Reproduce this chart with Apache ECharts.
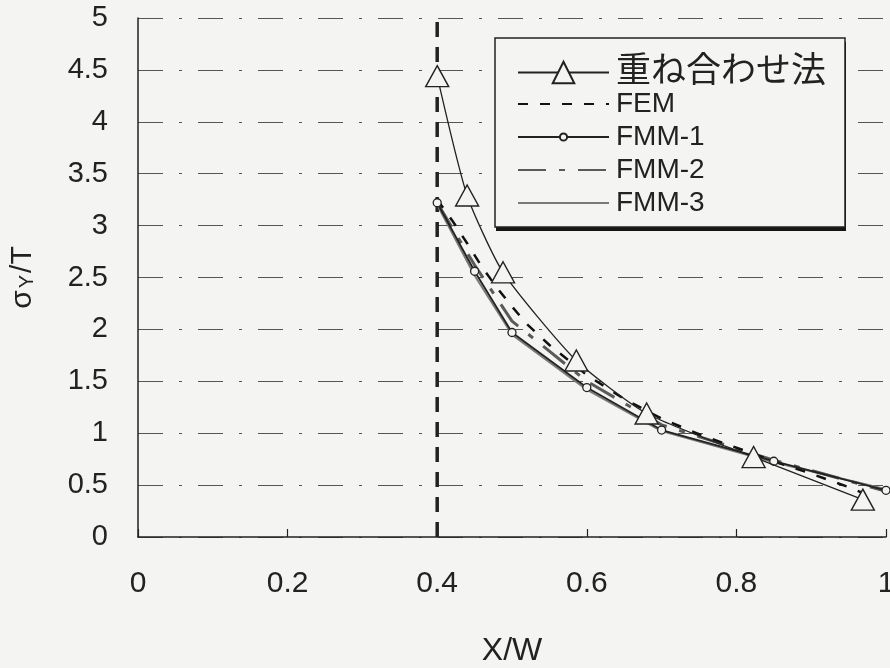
<!DOCTYPE html>
<html><head><meta charset="utf-8">
<script src="https://cdn.jsdelivr.net/npm/echarts/dist/echarts.min.js"></script>
<style>html,body{margin:0;padding:0;background:#f4f4f2}#c{width:890px;height:668px}</style>
</head><body><div id="c"></div>
<script>
// ---- data ----
const seriesNames = ['重ね合わせ法', 'FEM', 'FMM-1', 'FMM-2', 'FMM-3'];
const superX = [0.4, 0.44, 0.488, 0.586, 0.68, 0.823, 0.969];
const superY = [4.44, 3.29, 2.55, 1.70, 1.19, 0.77, 0.36];
const femX = [0.4, 0.42, 0.44, 0.46, 0.48, 0.5, 0.52, 0.55, 0.6, 0.65, 0.7, 0.75, 0.8, 0.85, 0.9, 0.95, 0.97];
const femY = [3.25, 3.05, 2.83, 2.6, 2.4, 2.22, 2.05, 1.85, 1.56, 1.33, 1.14, 0.99, 0.86, 0.73, 0.61, 0.48, 0.42];
const fmm1X = [0.4, 0.45, 0.5, 0.6, 0.7, 0.85, 1.0];
const fmm1Y = [3.22, 2.56, 1.97, 1.44, 1.03, 0.73, 0.45];
const fmm2X = [0.4, 0.45, 0.5, 0.6, 0.7, 0.85, 1.0];
const fmm2Y = [3.22, 2.62, 2.08, 1.5, 1.08, 0.74, 0.44];
const fmm3X = [0.4, 0.45, 0.5, 0.6, 0.7, 0.85, 1.0];
const fmm3Y = [3.2, 2.52, 1.95, 1.42, 1.02, 0.72, 0.46];
const crackX = [0.4, 0.4];
const crackY = [0, 5];
const xTicks = [0, 0.2, 0.4, 0.6, 0.8, 1];
const yTicks = [0, 0.5, 1, 1.5, 2, 2.5, 3, 3.5, 4, 4.5, 5];

const zip = (xs, ys) => xs.map((x, i) => [x, ys[i]]);
const BG = '#f4f4f2';
const FONT = '"Liberation Sans", Arial, "Noto Sans CJK JP", sans-serif';
const chart = echarts.init(document.getElementById('c'), null, {renderer: 'canvas'});
chart.setOption({
  backgroundColor: BG,
  animation: false,
  textStyle: {fontFamily: FONT, color: '#222'},
  grid: {left: 138, right: 4, top: 18, bottom: 131, outerBoundsMode: 'none', containLabel: false},
  xAxis: {
    type: 'value', min: xTicks[0], max: xTicks[xTicks.length - 1], interval: 0.2,
    name: 'X/W', nameLocation: 'middle', nameGap: 98,
    nameTextStyle: {fontSize: 32, color: '#222', fontFamily: FONT},
    axisLine: {show: true, lineStyle: {color: '#222', width: 1.5}},
    axisTick: {show: true, inside: true, length: 8, lineStyle: {color: '#222', width: 1.2}},
    axisLabel: {fontSize: 30, color: '#222', margin: 32, fontFamily: FONT,
      formatter: v => String(xTicks.find(t => Math.abs(t - v) < 1e-9) ?? v)},
    splitLine: {show: false}
  },
  yAxis: {
    type: 'value', min: yTicks[0], max: yTicks[yTicks.length - 1], interval: 0.5,
    name: '{a|σ}{b|Y}{a|/T}', nameLocation: 'middle', nameGap: 100, nameRotate: 90,
    nameTextStyle: {fontFamily: FONT, color: '#222',
      rich: {a: {fontSize: 30, fontFamily: FONT, color: '#222'}, b: {fontSize: 20, fontFamily: FONT, color: '#222', padding: [8, 2, 0, 2]}}},
    axisLine: {show: true, lineStyle: {color: '#222', width: 1.5}},
    axisTick: {show: false},
    axisLabel: {fontSize: 29, color: '#222', margin: 30, fontFamily: FONT},
    splitLine: {show: true, lineStyle: {color: '#555', width: 1.2, type: [25, 16, 3, 16]}}
  },
  graphic: [{
    type: 'rect', z: 89, shape: {x: 496, y: 42, width: 350, height: 189},
    style: {fill: '#151515'}
  }, {
    type: 'rect', z: 90, shape: {x: 495, y: 38, width: 350, height: 189},
    style: {fill: BG, stroke: '#222', lineWidth: 1.5}
  }],
  legend: [{
    orient: 'vertical', left: 512, top: 50, z: 100,
    itemWidth: 91, itemHeight: 27, itemGap: 0,
    data: [{name: seriesNames[0]}],
    textStyle: {fontSize: 35, color: '#222', fontFamily: FONT, padding: [0, 0, 0, 2]}
  }, {
    orient: 'vertical', left: 512, top: 85, z: 100,
    itemWidth: 91, itemHeight: 9, itemGap: 5,
    data: [
      {name: seriesNames[1], itemStyle: {opacity: 0}},
      {name: seriesNames[2]},
      {name: seriesNames[3], itemStyle: {opacity: 0}},
      {name: seriesNames[4], itemStyle: {opacity: 0}}
    ],
    textStyle: {fontSize: 28, lineHeight: 28, color: '#222', fontFamily: FONT, padding: [0, 0, 0, 2]}
  }],
  series: [
    {name: 'crack', type: 'line', data: zip(crackX, crackY), symbol: 'none', silent: true, z: 1,
      lineStyle: {color: '#222', width: 3.5, type: [15, 10]}},
    {name: seriesNames[4], type: 'line', data: zip(fmm3X, fmm3Y), symbol: 'none', z: 2,
      lineStyle: {color: '#7a7a7a', width: 2}, itemStyle: {color: '#7a7a7a'}},
    {name: seriesNames[3], type: 'line', data: zip(fmm2X, fmm2Y), symbol: 'none', z: 3,
      lineStyle: {color: '#5a5a5a', width: 3, type: [28, 13, 6, 13]}, itemStyle: {color: '#5a5a5a'}},
    {name: seriesNames[1], type: 'line', data: zip(femX, femY), symbol: 'none', z: 4,
      lineStyle: {color: '#111', width: 2.5, type: [10, 12]}, itemStyle: {color: '#111'}},
    {name: seriesNames[2], type: 'line', data: zip(fmm1X, fmm1Y), symbol: 'circle', symbolSize: 8, z: 5,
      lineStyle: {color: '#222', width: 1.8}, itemStyle: {color: BG, borderColor: '#222', borderWidth: 1.3}},
    {name: seriesNames[0], type: 'line', data: zip(superX, superY), symbol: 'triangle', symbolSize: [23, 21], z: 6,
      smooth: 0.2,
      lineStyle: {color: '#222', width: 1.3}, itemStyle: {color: BG, borderColor: '#222', borderWidth: 1.4}}
  ]
});
</script></body></html>
